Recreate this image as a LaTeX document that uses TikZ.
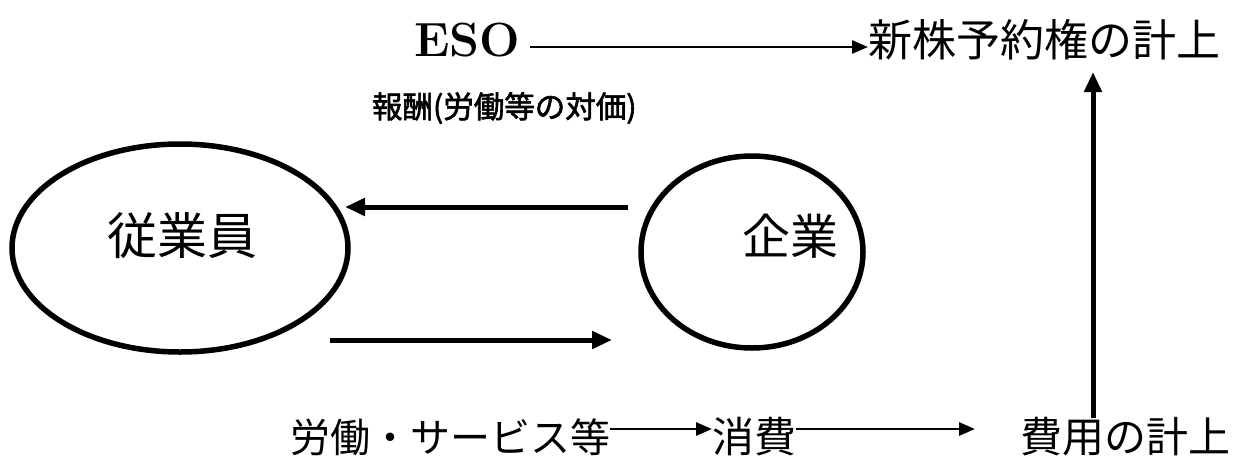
\documentclass[tikz,border=0pt]{standalone}
\usepackage{fontspec}
\newfontfamily\jp{Noto Sans CJK JP}
\newfontfamily\jpb{Noto Sans CJK JP}[FakeBold=2]
\usetikzlibrary{arrows.meta}
\begin{document}
\begin{tikzpicture}[x=1pt,y=-1pt,
  txt/.style={inner sep=0pt,outer sep=0pt},
  thick arrow/.style={line width=5pt,-{Triangle[length=20pt,width=17pt]}},
  thin arrow/.style={line width=2.8pt,-{Triangle[length=16pt,width=13pt]}}]
\useasboundingbox (0,0) rectangle (1242,459);
% ellipses
\draw[line width=5.5pt] (180,248) ellipse [x radius=168, y radius=104];
\draw[line width=5.5pt] (752,252) ellipse [x radius=111, y radius=96];
\node[txt] (jugyoin) at (182,236) {\jp\fontsize{50}{56}\selectfont 従業員};
\node[txt] (kigyo) at (790,236) {\jp\fontsize{48}{54}\selectfont 企業};
% top row
\node[txt,anchor=west] (eso) at (414,40) {\bfseries\fontsize{48}{52}\selectfont ESO};
\node[txt,anchor=west] (shinkabu) at (868,40) {\jp\fontsize{44}{50}\selectfont 新株予約権の計上};
\draw[thin arrow] (eso.east)++(10,7) coordinate (e1) -- (e1 -| shinkabu.west) coordinate (e2);
% label
\node[txt,anchor=west] (hoshu) at (372,108) {\jpb\fontsize{30.5}{34}\selectfont 報酬(労働等の対価)};
% middle arrows
\coordinate (a1) at (628,207);
\coordinate (a2) at (345,207);
\draw[thick arrow] (a1) -- (a2);
\coordinate (b1) at (330,340);
\coordinate (b2) at (612,340);
\draw[thick arrow] (b1) -- (b2);
% bottom row
\node[txt,anchor=west] (rodo) at (290,437) {\jp\fontsize{40}{46}\selectfont 労働・サービス等};
\node[txt,anchor=west] (shohi) at (712,437) {\jp\fontsize{42}{48}\selectfont 消費};
\node[txt,anchor=west] (hiyo) at (1020,437) {\jp\fontsize{42}{48}\selectfont 費用の計上};
\draw[thin arrow] ([yshift=8]rodo.east) -- ([yshift=8]shohi.west);
\draw[thin arrow] ([yshift=8]shohi.east) -- ([xshift=-45,yshift=8]hiyo.west);
% vertical arrow
\coordinate (v1) at (1093,418);
\coordinate (v2) at (1093,72);
\draw[thick arrow] (v1) -- (v2);
\end{tikzpicture}
\end{document}
